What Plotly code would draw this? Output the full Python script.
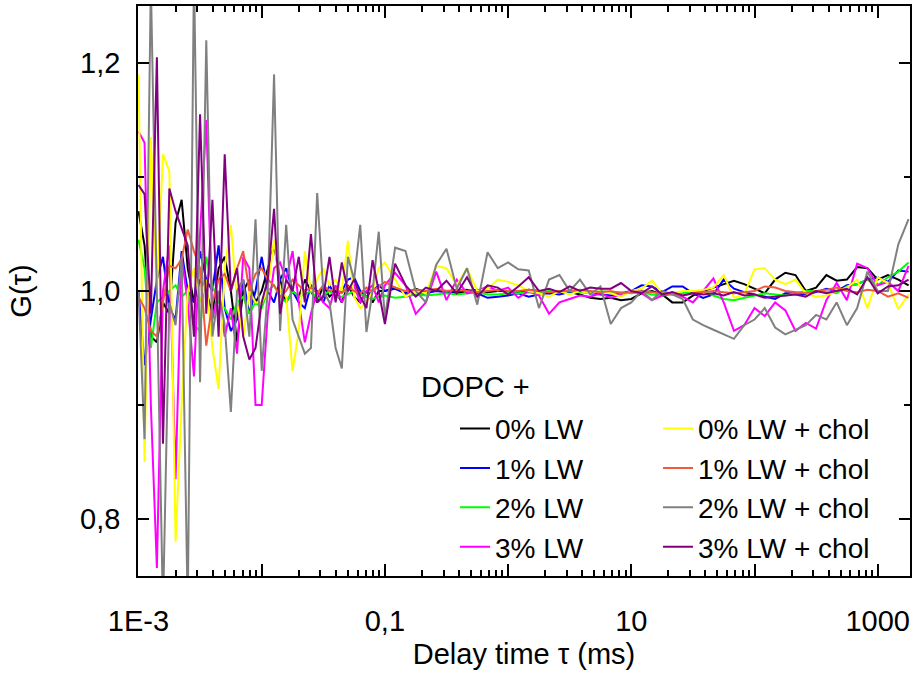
import plotly.graph_objects as go

# delay time grid (ms)
tau = [0.001, 0.00112, 0.00126, 0.00141, 0.00158, 0.00178, 0.002, 0.00224, 0.00251, 0.00282,
       0.00316, 0.00355, 0.00398, 0.00447, 0.00501, 0.00562, 0.00631, 0.00708, 0.00794, 0.00891,
       0.01, 0.0112, 0.0126, 0.0141, 0.0158, 0.0178, 0.02, 0.0224, 0.0251, 0.0282,
       0.0316, 0.0355, 0.0398, 0.0447, 0.0501, 0.0562, 0.0631, 0.0708, 0.0794, 0.0891,
       0.1, 0.121, 0.147, 0.178, 0.215, 0.261, 0.316, 0.383, 0.464, 0.562, 0.681, 0.825,
       1, 1.21, 1.47, 1.78, 2.15, 2.61, 3.16, 3.83, 4.64, 5.62, 6.81, 8.25,
       10, 12.1, 14.7, 17.8, 21.5, 26.1, 31.6, 38.3, 46.4, 56.2, 68.1, 82.5,
       100, 121, 147, 178, 215, 261, 316, 383, 464, 562, 681, 825,
       1000, 1210, 1470, 1780]

lw0 = [1.07, 1.04, 0.96, 0.955, 0.99, 0.98, 1.06, 1.08, 1.02, 0.99, 1.01, 1.0, 0.98, 1.02, 1.03, 1.0, 0.955, 1.0, 1.01, 0.99,
       1.0, 1.02, 1.04, 1.01, 0.99, 1.0, 0.995, 1.01, 1.0, 0.99, 1.005, 0.995, 1.0, 0.99, 1.005, 0.995, 0.99, 1.0, 0.99, 1.0,
       1.0, 1.003, 0.998, 1.002, 0.999, 1.001, 1.0, 0.998, 1.0, 1.001, 0.999, 1.0,
       1.0, 0.999, 1.001, 1.0, 0.998, 1.0, 0.999, 0.997, 0.994, 0.993, 0.994, 0.992,
       0.993, 0.998, 1.0, 0.997, 0.99, 0.99, 0.996, 1.0, 1.003, 1.006, 1.009, 1.006,
       1.002, 0.998, 1.01, 1.016, 1.014, 1.0, 1.003, 1.014, 1.009, 1.01, 1.021, 1.02,
       1.01, 1.014, 1.01, 1.005]

lw1 = [1.0, 0.935, 0.975, 1.01, 1.03, 0.985, 0.975, 1.035, 1.0, 0.99, 1.035, 1.01, 1.0, 1.04, 0.985, 0.965, 0.975, 1.01, 0.98, 1.0,
       1.03, 1.0, 0.99, 1.01, 1.02, 1.0, 0.99, 0.985, 1.005, 1.0, 0.99, 1.005, 0.995, 1.0, 1.01, 1.012, 1.0, 0.995, 1.0, 1.005,
       1.0, 1.002, 0.998, 0.996, 0.998, 1.0, 0.999, 1.0, 1.001, 0.998, 0.994, 0.995,
       0.996, 0.998, 0.995, 0.997, 0.998, 0.997, 0.999, 1.0, 0.998, 0.997, 0.996, 0.998,
       1.0, 1.005, 1.004, 0.999, 1.004, 1.004, 0.998, 0.994, 0.997, 1.01, 1.002, 0.999,
       0.997, 0.995, 0.993, 0.998, 0.998, 0.997, 0.999, 1.002, 1.0, 1.005, 1.006, 1.01,
       1.012, 1.008, 1.018, 1.017]

lw2 = [1.045, 1.02, 0.95, 0.99, 0.995, 1.0, 1.005, 0.995, 1.0, 0.97, 0.965, 1.03, 1.005, 0.99, 0.985, 0.975, 0.99, 0.995, 0.98, 0.99,
       0.985, 1.0, 1.005, 0.995, 0.99, 1.0, 0.995, 0.997, 1.0, 0.993, 0.996, 1.0, 0.995, 0.995, 0.997, 1.0, 0.997, 0.995, 0.993, 0.995,
       0.996, 0.994, 0.995, 0.997, 0.996, 0.997, 0.998, 0.997, 0.998, 0.999, 0.997, 0.997,
       0.998, 0.998, 0.999, 0.998, 1.0, 0.999, 1.0, 0.999, 0.998, 1.0, 0.999, 0.999,
       0.998, 0.999, 0.997, 0.996, 0.997, 0.998, 1.0, 1.0, 0.996, 0.993, 0.992, 0.994,
       0.996, 0.998, 0.997, 0.996, 0.998, 1.0, 1.0, 0.999, 0.998, 1.004, 1.006, 1.01,
       1.005, 1.012, 1.017, 1.025]

lw3 = [1.14, 1.13, 0.9, 0.757, 1.0, 1.04, 0.835, 1.03, 0.99, 0.925, 1.05, 1.15, 0.975, 1.0, 0.96, 0.985, 0.945, 1.03, 1.02, 0.9,
       0.9, 0.98, 1.02, 1.025, 1.01, 1.035, 0.99, 0.955, 0.98, 1.0, 0.99, 0.985, 1.005, 0.99, 1.0, 1.005, 0.99, 1.0, 1.005, 0.99,
       1.005, 1.016, 1.005, 0.98, 0.99, 1.017, 0.992, 1.01, 0.998, 1.0, 1.004, 1.0,
       1.003, 0.994, 1.0, 0.996, 0.98, 0.99, 0.993, 0.996, 0.995, 0.998, 0.994, 0.997,
       1.0, 0.998, 0.992, 0.996, 0.998, 0.995, 0.99, 1.0, 1.011, 0.99, 0.965, 0.97,
       0.985, 0.978, 0.99, 0.983, 0.965, 0.972, 0.967, 0.992, 1.007, 0.992, 1.024, 1.02,
       1.005, 1.008, 1.0, 1.022]

lw0_chol = [1.19, 0.85, 1.135, 1.0, 1.12, 1.105, 0.78, 0.9, 1.0, 1.02, 0.99, 1.01, 0.95, 0.914, 1.02, 1.058, 0.99, 0.96, 1.0, 0.99,
            0.99, 1.0, 1.045, 1.0, 0.995, 0.93, 0.965, 1.035, 1.0, 1.01, 1.02, 1.005, 1.01, 1.0, 1.044, 0.995, 0.985, 0.99, 1.0, 1.02,
            1.025, 1.01, 0.995, 1.0, 0.998, 1.022, 1.02, 1.005, 1.02, 1.0, 1.002, 1.01,
            1.008, 1.005, 1.0, 0.998, 0.995, 1.0, 0.997, 1.0, 0.998, 1.0, 0.998, 0.995,
            1.0, 1.002, 1.009, 0.998, 0.998, 1.0, 1.0, 1.001, 1.003, 1.014, 0.994, 0.997,
            1.019, 1.02, 1.01, 1.006, 1.01, 0.998, 0.995, 0.996, 1.0, 1.003, 1.01, 0.985,
            1.012, 1.007, 0.984, 0.997]

lw1_chol = [0.995, 0.985, 0.965, 0.96, 0.99, 1.022, 1.02, 1.028, 1.054, 1.035, 1.02, 0.952, 0.99, 1.01, 1.015, 1.0, 1.02, 1.035, 1.0, 1.015,
            1.02, 1.01, 1.005, 0.995, 1.0, 1.01, 1.005, 1.0, 1.003, 0.998, 1.005, 1.0, 1.002, 0.998, 1.004, 1.0, 0.998, 1.003, 1.0, 1.004,
            1.008, 1.003, 1.0, 1.001, 1.0, 1.002, 1.0, 1.001, 1.0, 0.999, 1.0, 1.001,
            1.0, 1.0, 1.001, 1.0, 0.999, 1.0, 1.0, 1.001, 1.0, 0.999, 1.0, 0.998,
            0.999, 1.0, 0.999, 0.998, 0.997, 0.996, 0.998, 0.999, 1.0, 0.999, 0.998, 0.999,
            1.0, 1.004, 1.003, 1.0, 0.999, 0.998, 1.0, 1.001, 1.003, 1.0, 0.999, 1.001,
            1.0, 0.995, 0.998, 0.994]

lw2_chol = [1.0, 0.87, 1.27, 1.0, 0.72, 0.99, 0.97, 1.03, 0.72, 1.28, 0.92, 1.22, 0.96, 1.0, 0.97, 0.894, 1.0, 1.01, 0.96, 1.063,
            0.93, 1.0, 1.19, 0.965, 1.058, 0.975, 0.96, 0.945, 0.95, 1.086, 1.0, 0.99, 0.95, 0.932, 1.03, 1.01, 1.058, 0.964, 1.0, 1.052,
            0.976, 1.038, 1.035, 1.0, 0.99, 1.023, 1.037, 1.002, 1.02, 0.988, 1.034, 1.02,
            1.025, 1.019, 1.018, 0.985, 1.01, 1.014, 1.0, 1.01, 0.997, 1.004, 0.971, 0.985,
            0.99, 1.0, 0.992, 1.0, 0.997, 0.993, 0.975, 0.97, 0.966, 0.962, 0.958, 0.97,
            0.975, 0.985, 0.968, 0.962, 0.966, 0.97, 0.979, 0.975, 0.99, 0.97, 0.985, 1.017,
            1.0, 1.0, 1.041, 1.063]

lw3_chol = [1.093, 1.085, 0.98, 1.205, 0.866, 1.09, 1.07, 1.055, 1.04, 0.96, 1.155, 0.98, 1.08, 0.96, 1.12, 1.0, 1.02, 0.96, 0.94, 0.95,
            0.99, 1.01, 1.072, 0.98, 1.01, 1.0, 1.03, 0.99, 1.05, 0.99, 0.995, 1.03, 0.99, 1.025, 1.0, 1.01, 0.995, 0.985, 1.027, 1.0,
            0.971, 1.024, 1.005, 0.995, 1.003, 1.0, 1.009, 0.998, 1.012, 0.995, 1.005, 1.003,
            0.997, 1.004, 1.012, 1.0, 1.002, 0.999, 1.004, 1.0, 1.003, 1.002, 1.002, 1.007,
            1.0, 0.998, 1.004, 0.997, 0.999, 0.996, 0.998, 0.997, 0.998, 0.996, 0.999, 0.996,
            0.997, 0.994, 0.995, 0.996, 0.997, 0.995, 1.0, 0.998, 1.0, 1.002, 0.997, 1.012,
            0.998, 1.004, 1.005, 1.01]

series = [
    ("0% LW", lw0, "#000000", "legend"),
    ("1% LW", lw1, "#0000ff", "legend"),
    ("2% LW", lw2, "#00ff00", "legend"),
    ("3% LW", lw3, "#ff00ff", "legend"),
    ("0% LW + chol", lw0_chol, "#ffff00", "legend2"),
    ("1% LW + chol", lw1_chol, "#f05a3c", "legend2"),
    ("2% LW + chol", lw2_chol, "#808080", "legend2"),
    ("3% LW + chol", lw3_chol, "#800080", "legend2"),
]

FONT = "Liberation Sans, Arial, sans-serif"

fig = go.Figure()
for name, vals, col, leg in series:
    fig.add_trace(go.Scatter(x=tau, y=vals, mode="lines", name=name,
                             line=dict(color=col, width=2), legend=leg))

major_x = [0.001, 0.01, 0.1, 1, 10, 100, 1000]
minor_x = [m * d for d in major_x for m in range(2, 10)]

axis_common = dict(showline=True, linecolor="black", linewidth=1.5, mirror="allticks",
                   ticks="inside", tickcolor="black", tickwidth=1.5, showgrid=False,
                   zeroline=False, tickfont=dict(family=FONT, size=29, color="black"))

fig.update_xaxes(type="log", range=[-3.004, 3.262], tickvals=major_x,
                 ticktext=["1E-3", "", "0,1", "", "10", "", "1000"], ticklen=12,
                 ticklabelstandoff=18,
                 minor=dict(tickvals=minor_x, ticks="inside", ticklen=6, tickcolor="black", tickwidth=1.5),
                 title=dict(text="Delay time τ (ms)", font=dict(family=FONT, size=29, color="black"),
                            standoff=8),
                 **axis_common)
fig.update_yaxes(range=[0.75, 1.25], tickvals=[0.8, 1.0, 1.2], ticktext=["0,8", "1,0", "1,2"],
                 ticklen=11, ticklabelstandoff=10,
                 minor=dict(tickvals=[0.9, 1.1], ticks="inside", ticklen=6, tickcolor="black", tickwidth=1.5),
                 title=dict(text="G(τ)", font=dict(family=FONT, size=29, color="black"), standoff=40),
                 **axis_common)

leg_style = dict(font=dict(family=FONT, size=28, color="black"), bgcolor="rgba(0,0,0,0)",
                 borderwidth=0, yanchor="top", xanchor="left", y=0.302)

fig.update_layout(
    width=916, height=678,
    margin=dict(l=138, r=6, t=4, b=102),
    paper_bgcolor="white", plot_bgcolor="white",
    showlegend=True,
    legend=dict(x=0.4106, **leg_style),
    legend2=dict(x=0.6736, **leg_style),
    annotations=[dict(text="DOPC +", xref="paper", yref="paper", x=0.364, y=0.332,
                      xanchor="left", yanchor="middle", showarrow=False,
                      font=dict(family=FONT, size=29, color="black"))],
)

fig.write_html("out.html", config={"displayModeBar": False},
               post_script="document.body.style.margin='0';")
